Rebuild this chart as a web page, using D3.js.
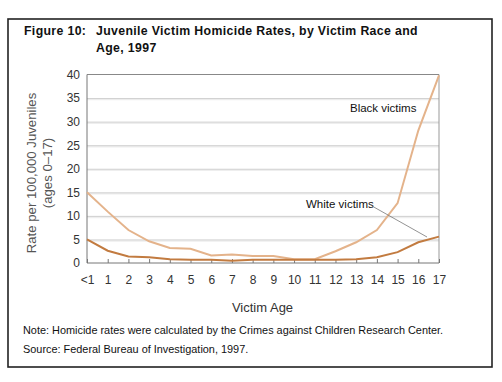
<!DOCTYPE html>
<html><head><meta charset="utf-8">
<script src="https://cdn.jsdelivr.net/npm/d3@7"></script>
<style>body{margin:0;background:#fff;}svg{display:block;font-family:Arial,"Liberation Sans",sans-serif;}</style>
</head><body><svg id="c" width="502" height="382"></svg>
<script>
const ages = ["<1","1","2","3","4","5","6","7","8","9","10","11","12","13","14","15","16","17"];
const blackVictims = [15.0,10.9,7.0,4.6,3.2,3.0,1.6,1.8,1.5,1.5,0.8,0.8,2.5,4.4,7.0,12.7,28.1,39.8];
const whiteVictims = [5.0,2.6,1.4,1.2,0.8,0.7,0.7,0.5,0.7,0.7,0.7,0.7,0.7,0.8,1.2,2.3,4.4,5.6];
const yTicks = [0,5,10,15,20,25,30,35,40];

const svg = d3.select("#c");
svg.append("rect").attr("x",8).attr("y",19).attr("width",484).attr("height",348)
  .attr("fill","#fff").attr("stroke","#222").attr("stroke-width",1.6);

const titleAttrs = s => s.attr("font-size",12.3).attr("font-weight","bold").attr("fill","#111").attr("letter-spacing",0.35);
svg.append("text").attr("x",24).attr("y",35).call(titleAttrs).text("Figure 10:");
svg.append("text").attr("x",96).attr("y",35).call(titleAttrs).text("Juvenile Victim Homicide Rates, by Victim Race and");
svg.append("text").attr("x",96).attr("y",52).call(titleAttrs).text("Age, 1997");

const L=87, R=439, T=74.5, B=263;
const x = d3.scalePoint().domain(ages).range([L,R]);
const y = d3.scaleLinear().domain([0,40]).range([B,T]);

// gridlines
const g = svg.append("g");
yTicks.filter(t=>t>0 && t<40).forEach(t=>{
  g.append("line").attr("x1",L).attr("x2",R).attr("y1",y(t)+1.5).attr("y2",y(t)+1.5).attr("stroke","#eeeeee").attr("stroke-width",1.5);
  g.append("line").attr("x1",L).attr("x2",R).attr("y1",y(t)+0.5).attr("y2",y(t)+0.5).attr("stroke","#cfcfcf").attr("stroke-width",1);
});
g.append("line").attr("x1",L).attr("x2",R).attr("y1",y(40)).attr("y2",y(40)).attr("stroke","#888").attr("stroke-width",1);
g.append("line").attr("x1",R).attr("x2",R).attr("y1",y(40)).attr("y2",B).attr("stroke","#999").attr("stroke-width",1);

// x axis
const xa = svg.append("g").attr("transform",`translate(0,${B})`)
  .call(d3.axisBottom(x).tickSize(-4).tickPadding(12));
xa.select(".domain").attr("stroke","#777").attr("d",`M${L},0H${R}`);
xa.selectAll(".tick line").attr("stroke","#777");
xa.selectAll(".tick text").attr("font-size",12).attr("fill","#333").attr("font-family","Arial,'Liberation Sans',sans-serif");

// y axis
const ya = svg.append("g").attr("transform",`translate(${L},0)`)
  .call(d3.axisLeft(y).tickValues(yTicks).tickSize(0).tickPadding(7));
ya.select(".domain").attr("stroke","#777").attr("d",`M0,${T}V${B}`);
ya.selectAll(".tick text").attr("font-size",12).attr("fill","#333").attr("font-family","Arial,'Liberation Sans',sans-serif");

const line = d3.line().x((d,i)=>x(ages[i])).y(d=>y(d));
svg.append("path").datum(blackVictims).attr("d",line).attr("fill","none").attr("stroke","#e4b38b").attr("stroke-width",2);
svg.append("path").datum(whiteVictims).attr("d",line).attr("fill","none").attr("stroke","#c27b40").attr("stroke-width",2);

// annotations
svg.append("text").attr("x",350).attr("y",112).attr("font-size",11.5).attr("fill","#111").text("Black victims");
svg.append("text").attr("x",306).attr("y",208).attr("font-size",11.5).attr("fill","#111").text("White victims");
svg.append("line").attr("x1",372).attr("y1",206).attr("x2",427).attr("y2",237).attr("stroke","#777").attr("stroke-width",0.8);

// axis titles
svg.append("text").attr("transform","translate(36,173) rotate(-90)").attr("text-anchor","middle")
  .attr("font-size",13.2).attr("fill","#555").text("Rate per 100,000 Juveniles");
svg.append("text").attr("transform","translate(52,173) rotate(-90)").attr("text-anchor","middle")
  .attr("font-size",13.2).attr("fill","#555").text("(ages 0\u201317)");
svg.append("text").attr("x",262.5).attr("y",312).attr("text-anchor","middle").attr("font-size",13).attr("fill","#333").text("Victim Age");

svg.append("text").attr("x",23).attr("y",334).attr("font-size",10.9).attr("fill","#111").text("Note: Homicide rates were calculated by the Crimes against Children Research Center.");
svg.append("text").attr("x",23).attr("y",353).attr("font-size",10.9).attr("fill","#111").text("Source: Federal Bureau of Investigation, 1997.");
</script></body></html>
